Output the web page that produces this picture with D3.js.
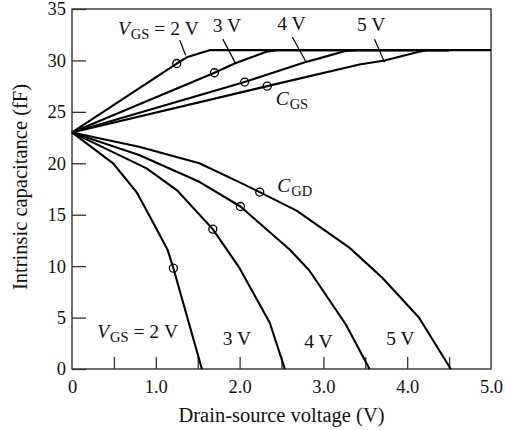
<!DOCTYPE html>
<html>
<head>
<meta charset="utf-8">
<script src="https://cdn.jsdelivr.net/npm/d3@7"></script>
<style>
  body { margin: 0; background: #fff; }
  svg { display: block; }
  text { font-family: "Liberation Serif", "Times New Roman", serif; fill: #111; }
</style>
</head>
<body>
<svg id="chart" width="505" height="430"></svg>
<script>
// Drain-source voltage (V) vs intrinsic capacitance (fF), one curve per gate-source voltage
const gateVoltages = [2, 3, 4, 5];

// C_GS curves: [V_DS, C] pairs
const cgs2V = [[0, 23], [1.25, 29.7], [1.37, 30.3], [1.64, 31], [5.0, 31]];
const cgs3V = [[0, 23], [1.70, 28.8], [1.94, 29.7], [2.32, 30.85], [2.45, 31], [4.5, 31]];
const cgs4V = [[0, 23], [2.06, 27.9], [2.77, 29.8], [2.95, 30.2], [3.25, 30.9], [3.4, 31], [4.5, 31]];
const cgs5V = [[0, 23], [2.33, 27.5], [3.43, 29.6], [3.73, 30.0], [4.14, 30.85], [4.25, 31], [4.5, 31]];

// C_GD curves
const cgd2V = [[0, 23], [0.49, 20.0], [0.77, 17.2], [0.95, 14.5], [1.14, 11.6], [1.21, 9.8], [1.55, 0]];
const cgd3V = [[0, 23], [0.89, 19.5], [1.25, 17.4], [1.68, 13.6], [2.0, 9.8], [2.36, 4.5], [2.54, 0]];
const cgd4V = [[0, 23], [0.8, 20.8], [1.52, 18.2], [2.01, 15.8], [2.6, 11.6], [2.83, 9.6], [3.27, 4.3], [3.55, 0]];
const cgd5V = [[0, 23], [0.8, 21.6], [1.52, 20.0], [2.04, 18.0], [2.24, 17.2], [2.68, 15.4], [3.31, 11.8], [3.70, 8.9], [4.14, 5.0], [4.52, 0]];

// open-circle markers on each curve
const cgsMarks = [[1.25, 29.7], [1.70, 28.8], [2.06, 27.9], [2.33, 27.5]];
const cgdMarks = [[1.21, 9.8], [1.68, 13.6], [2.01, 15.8], [2.24, 17.2]];

// axis ticks
const xTickValues = [0, 0.5, 1, 1.5, 2, 2.5, 3, 3.5, 4, 4.5, 5];
const yTickValues = [0, 5, 10, 15, 20, 25, 30, 35];

const svg = d3.select("#chart");
const margin = { left: 72, top: 9, right: 14, bottom: 61 };
const W = 505, H = 430;

const x = d3.scaleLinear().domain([0, 5]).range([margin.left, W - margin.right]);
const y = d3.scaleLinear().domain([0, 35]).range([H - margin.bottom, margin.top]);

const axisColor = "#333";
const labelSize = 19.5, subSize = 14.5;

// Y axis with inward ticks
const yAxis = d3.axisLeft(y).tickValues(yTickValues).tickSize(-14).tickPadding(6).tickFormat(d3.format("d"));
const gy = svg.append("g").attr("transform", `translate(${x(0)},0)`).call(yAxis);
gy.select(".domain").remove();
gy.selectAll(".tick line").attr("stroke", axisColor).attr("stroke-width", 1.3);
gy.selectAll(".tick text").attr("font-size", 18.5).attr("fill", "#111").attr("font-family", null);

// X axis with inward ticks; labels on whole volts only
const xAxis = d3.axisBottom(x).tickValues(xTickValues).tickSize(-12).tickPadding(11)
  .tickFormat(d => (d % 1 !== 0 ? "" : d === 0 ? "0" : d.toFixed(1)));
const gx = svg.append("g").attr("transform", `translate(0,${y(0)})`).call(xAxis);
gx.select(".domain").remove();
gx.selectAll(".tick line").attr("stroke", axisColor).attr("stroke-width", 1.3)
  .filter(d => d === 0 || d === 5).remove();
gx.selectAll(".tick text").attr("font-size", 18.5).attr("fill", "#111").attr("font-family", null);

// plot frame
svg.append("rect")
  .attr("x", x(0)).attr("y", y(35))
  .attr("width", x(5) - x(0)).attr("height", y(0) - y(35))
  .attr("fill", "none").attr("stroke", axisColor).attr("stroke-width", 1.4);

// curves
const line = d3.line().x(d => x(d[0])).y(d => y(d[1]));
const curves = [cgs2V, cgs3V, cgs4V, cgs5V, cgd2V, cgd3V, cgd4V, cgd5V];
svg.append("g").selectAll("path").data(curves).join("path")
  .attr("d", line)
  .attr("fill", "none").attr("stroke", "#000").attr("stroke-width", 2.1)
  .attr("stroke-linejoin", "round");

// markers
svg.append("g").selectAll("circle").data(cgsMarks.concat(cgdMarks)).join("circle")
  .attr("cx", d => x(d[0])).attr("cy", d => y(d[1])).attr("r", 4)
  .attr("fill", "none").attr("stroke", "#000").attr("stroke-width", 1.3);

// leader lines from the top labels to the C_GS curves
const leaders = [
  [[1.286, 31.97], [1.357, 30.5]],
  [[1.80, 32.07], [1.95, 29.74]],
  [[2.63, 32.26], [2.79, 29.9]],
  [[3.61, 32.07], [3.73, 29.83]]
];
svg.append("g").selectAll("line").data(leaders).join("line")
  .attr("x1", d => x(d[0][0])).attr("y1", d => y(d[0][1]))
  .attr("x2", d => x(d[1][0])).attr("y2", d => y(d[1][1]))
  .attr("stroke", "#000").attr("stroke-width", 1.2);

// label helper: italic symbol + upright subscript + trailing text
function symbolLabel(vx, cy, sym, sub, tail) {
  const t = svg.append("text").attr("x", x(vx)).attr("y", y(cy)).attr("font-size", labelSize);
  t.append("tspan").attr("font-style", "italic").text(sym);
  t.append("tspan").attr("font-size", subSize).attr("dy", 4).attr("dx", 1).text(sub);
  if (tail) t.append("tspan").attr("dy", -4).text(tail);
  return t;
}
function plainLabel(vx, cy, str) {
  svg.append("text").attr("x", x(vx)).attr("y", y(cy)).attr("font-size", labelSize).text(str);
}

// top group (C_GS)
symbolLabel(0.548, 32.46, "V", "GS", " = 2\u00a0V");
plainLabel(1.68, 32.75, "3 V");
plainLabel(2.45, 32.94, "4 V");
plainLabel(3.40, 32.85, "5 V");
symbolLabel(2.43, 25.66, "C", "GS");

// C_GD annotation
symbolLabel(2.45, 17.2, "C", "GD");

// bottom group (C_GD)
symbolLabel(0.30, 3.01, "V", "GS", " = 2\u00a0V");
plainLabel(1.80, 2.33, "3 V");
plainLabel(2.77, 2.04, "4 V");
plainLabel(3.75, 2.33, "5 V");

// axis titles
svg.append("text")
  .attr("x", (x(0) + x(5)) / 2).attr("y", 422)
  .attr("text-anchor", "middle").attr("font-size", 20.5)
  .text("Drain-source voltage (V)");
svg.append("text")
  .attr("transform", `translate(27,${(y(0) + y(35)) / 2 - 2}) rotate(-90)`)
  .attr("text-anchor", "middle").attr("font-size", 20.5)
  .text("Intrinsic capacitance (fF)");
</script>
</body>
</html>
